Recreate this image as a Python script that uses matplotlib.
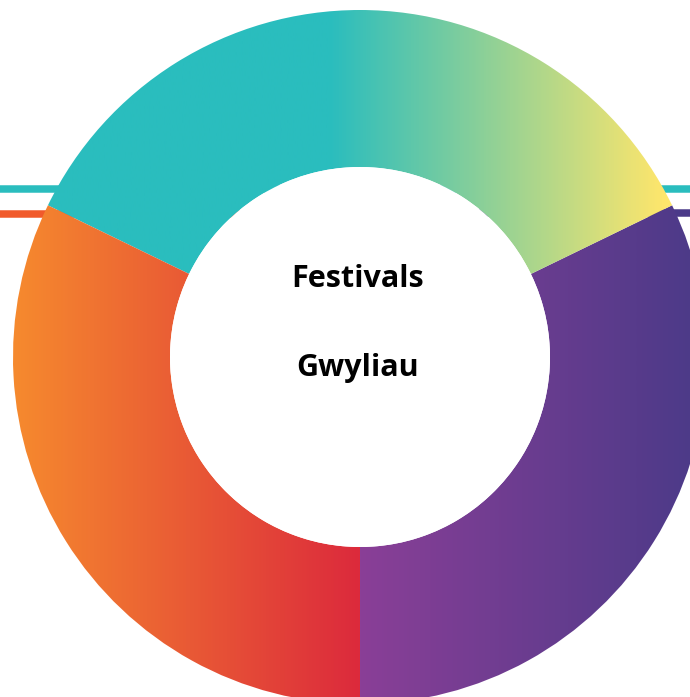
import matplotlib
matplotlib.use("Agg")
import matplotlib.pyplot as plt
import numpy as np
from matplotlib.colors import LinearSegmentedColormap
from matplotlib.patches import Circle

# segment shares (percent), counter-clockwise from the bottom
labels = ["Purple", "Teal-Yellow", "Orange"]
shares = [32.2, 35.6, 32.2]
# gradient stops per segment: (x position in px, colour)
gradients = [
    [(360, "#8a3f97"), (707, "#4a3a88")],
    [(47, "#2abdbe"), (330, "#2abdbe"), (665, "#fee66c")],
    [(13, "#f68a2e"), (360, "#dc2a3c")],
]
title_lines = ["Festivals", "Gwyliau"]

W, H = 690, 697
fig = plt.figure(figsize=(W / 100, H / 100), dpi=100)
ax = fig.add_axes([0, 0, 1, 1])

cx, cy = 360, H - 357
r_out, r_in = 347, 190

# thin horizontal bars behind the ring
ax.plot([0, W], [H - 189, H - 189], color="#2abdbe", lw=5.4, solid_capstyle="butt", zorder=1)
ax.plot([0, cx], [H - 214, H - 214], color="#f15a2b", lw=5.4, solid_capstyle="butt", zorder=1)
ax.plot([cx, W], [H - 213, H - 213], color="#4b3a89", lw=5.4, solid_capstyle="butt", zorder=1)

wedges, _ = ax.pie(shares, radius=r_out, center=(cx, cy), startangle=-90,
                   counterclock=True, wedgeprops=dict(width=r_out - r_in, linewidth=0),
                   colors=["none"] * 3)

xs = np.linspace(cx - r_out, cx + r_out, 800)
for w, stops in zip(wedges, gradients):
    x0, x1 = stops[0][0], stops[-1][0]
    pos = [(p - x0) / (x1 - x0) for p, _ in stops]
    cmap = LinearSegmentedColormap.from_list("g", list(zip(pos, [c for _, c in stops])))
    vals = np.clip((xs - x0) / (x1 - x0), 0, 1)[None, :]
    im = ax.imshow(vals, cmap=cmap, vmin=0, vmax=1, aspect="auto",
                   extent=[cx - r_out, cx + r_out, cy - r_out, cy + r_out],
                   zorder=2, interpolation="bilinear")
    im.set_clip_path(w)

# white hole hides the bars in the middle
ax.add_patch(Circle((cx, cy), r_in, facecolor="white", edgecolor="none", zorder=3))

ax.text(358, H - 287, title_lines[0], ha="center", va="baseline",
        fontsize=22, fontweight="bold", family="Open Sans", zorder=5)
ax.text(358, H - 376, title_lines[1], ha="center", va="baseline",
        fontsize=22, fontweight="bold", family="Open Sans", zorder=5)

ax.set_xlim(0, W)
ax.set_ylim(0, H)
ax.set_aspect("auto")
ax.axis("off")

plt.savefig("out.png", dpi=100)
